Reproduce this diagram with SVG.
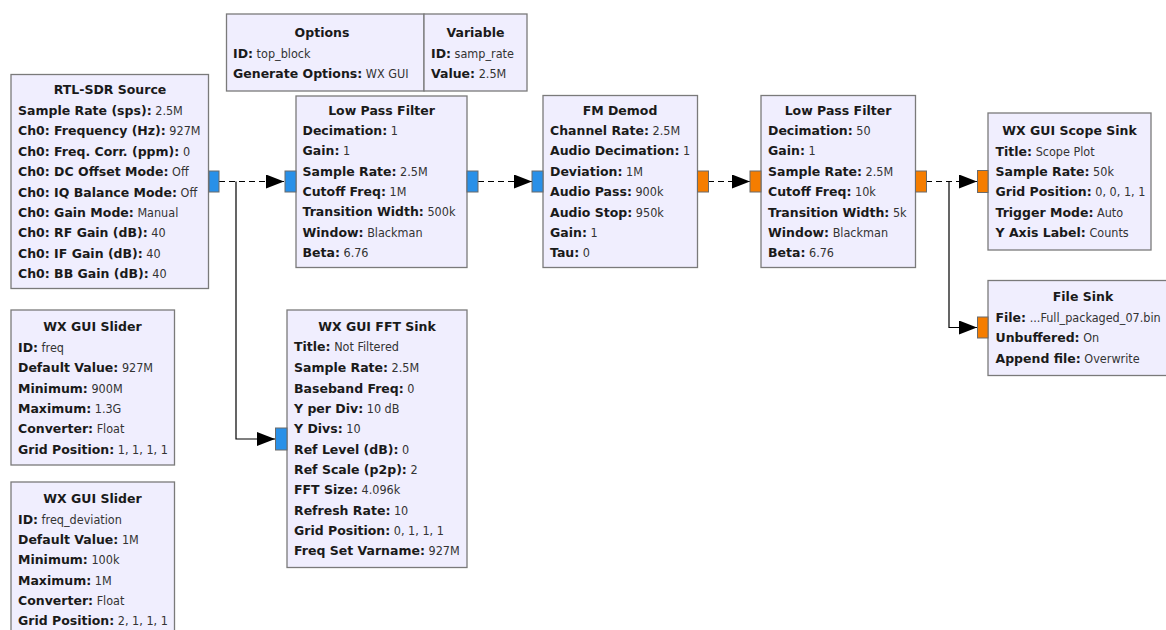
<svg xmlns="http://www.w3.org/2000/svg" width="1166" height="630" viewBox="0 0 1166 630">
<style>
.blk{fill:#F0EEFE;stroke:#7A7A7A;stroke-width:1.3}
.pb{fill:#2990E8;stroke:#6A6A6A;stroke-width:1}
.po{fill:#F57D00;stroke:#6A6A6A;stroke-width:1}
text{font-family:"DejaVu Sans Condensed","DejaVu Sans",sans-serif;font-stretch:condensed;font-size:12.5px;fill:#333}
.t{font-family:"DejaVu Sans",sans-serif;font-stretch:normal;font-weight:bold;text-anchor:middle;fill:#1a1a1a}
.k{font-family:"DejaVu Sans",sans-serif;font-stretch:normal;font-weight:bold;fill:#1a1a1a}
.dash{fill:none;stroke:#000;stroke-width:1.2;stroke-dasharray:6,4}
.sol{fill:none;stroke:#000;stroke-width:1.2}
</style>
<defs>
<marker id="arr" markerUnits="userSpaceOnUse" markerWidth="22" markerHeight="16" refX="18" refY="7" orient="auto">
<path d="M0,0 L18,7 L0,14 Z" fill="#000"/>
</marker>
</defs>
<rect width="1166" height="630" fill="#fff"/>
<g id="connectors">
<path class="dash" d="M219,181.5 H284" marker-end="url(#arr)"/>
<path class="sol" d="M236,181.5 V439 H275" marker-end="url(#arr)"/>
<path class="dash" d="M478,181.5 H532" marker-end="url(#arr)"/>
<path class="dash" d="M708,181.5 H750" marker-end="url(#arr)"/>
<path class="dash" d="M926,181.5 H977" marker-end="url(#arr)"/>
<path class="sol" d="M949,181.5 V327.5 H977" marker-end="url(#arr)"/>
</g>
<g id="options">
<rect class="blk" x="226.5" y="14" width="197.5" height="77"/>
<text class="t" x="322" y="37">Options</text>
<text x="233" y="58"><tspan class="k">ID:</tspan> top_block</text>
<text x="233" y="78"><tspan class="k">Generate Options:</tspan> WX GUI</text>
</g>
<g id="variable">
<rect class="blk" x="424" y="14" width="103" height="77"/>
<text class="t" x="475.5" y="37">Variable</text>
<text x="431" y="58"><tspan class="k">ID:</tspan> samp_rate</text>
<text x="431" y="78"><tspan class="k">Value:</tspan> 2.5M</text>
</g>
<g id="rtl">
<rect class="blk" x="11" y="74.5" width="197.5" height="214"/>
<text class="t" x="110" y="94">RTL-SDR Source</text>
<text x="18" y="114.5"><tspan class="k">Sample Rate (sps):</tspan> 2.5M</text>
<text x="18" y="135"><tspan class="k">Ch0: Frequency (Hz):</tspan> 927M</text>
<text x="18" y="155.5"><tspan class="k">Ch0: Freq. Corr. (ppm):</tspan> 0</text>
<text x="18" y="176"><tspan class="k">Ch0: DC Offset Mode:</tspan> Off</text>
<text x="18" y="196.5"><tspan class="k">Ch0: IQ Balance Mode:</tspan> Off</text>
<text x="18" y="216.5"><tspan class="k">Ch0: Gain Mode:</tspan> Manual</text>
<text x="18" y="237"><tspan class="k">Ch0: RF Gain (dB):</tspan> 40</text>
<text x="18" y="257.5"><tspan class="k">Ch0: IF Gain (dB):</tspan> 40</text>
<text x="18" y="278"><tspan class="k">Ch0: BB Gain (dB):</tspan> 40</text>
<rect class="pb" x="209" y="171" width="10" height="21"/>
</g>
<g id="lpf1">
<rect class="blk" x="296" y="96" width="171" height="171.5"/>
<text class="t" x="381.5" y="114.5">Low Pass Filter</text>
<text x="302.5" y="134.5"><tspan class="k">Decimation:</tspan> 1</text>
<text x="302.5" y="155"><tspan class="k">Gain:</tspan> 1</text>
<text x="302.5" y="175.5"><tspan class="k">Sample Rate:</tspan> 2.5M</text>
<text x="302.5" y="196"><tspan class="k">Cutoff Freq:</tspan> 1M</text>
<text x="302.5" y="216"><tspan class="k">Transition Width:</tspan> 500k</text>
<text x="302.5" y="236.5"><tspan class="k">Window:</tspan> Blackman</text>
<text x="302.5" y="257"><tspan class="k">Beta:</tspan> 6.76</text>
<rect class="pb" x="285" y="171" width="11" height="21"/>
<rect class="pb" x="467" y="171" width="11" height="21"/>
</g>
<g id="fmdemod">
<rect class="blk" x="543" y="95.5" width="154.5" height="172"/>
<text class="t" x="620" y="114.5">FM Demod</text>
<text x="550" y="135"><tspan class="k">Channel Rate:</tspan> 2.5M</text>
<text x="550" y="155"><tspan class="k">Audio Decimation:</tspan> 1</text>
<text x="550" y="175.5"><tspan class="k">Deviation:</tspan> 1M</text>
<text x="550" y="196"><tspan class="k">Audio Pass:</tspan> 900k</text>
<text x="550" y="216.5"><tspan class="k">Audio Stop:</tspan> 950k</text>
<text x="550" y="236.5"><tspan class="k">Gain:</tspan> 1</text>
<text x="550" y="257"><tspan class="k">Tau:</tspan> 0</text>
<rect class="pb" x="532" y="171" width="11" height="21"/>
<rect class="po" x="697.5" y="171" width="11" height="21"/>
</g>
<g id="lpf2">
<rect class="blk" x="761" y="95.5" width="154.5" height="172"/>
<text class="t" x="838" y="114.5">Low Pass Filter</text>
<text x="768" y="135"><tspan class="k">Decimation:</tspan> 50</text>
<text x="768" y="155"><tspan class="k">Gain:</tspan> 1</text>
<text x="768" y="175.5"><tspan class="k">Sample Rate:</tspan> 2.5M</text>
<text x="768" y="196"><tspan class="k">Cutoff Freq:</tspan> 10k</text>
<text x="768" y="216.5"><tspan class="k">Transition Width:</tspan> 5k</text>
<text x="768" y="236.5"><tspan class="k">Window:</tspan> Blackman</text>
<text x="768" y="257"><tspan class="k">Beta:</tspan> 6.76</text>
<rect class="po" x="750" y="171" width="11" height="21"/>
<rect class="po" x="915.5" y="171" width="11" height="21"/>
</g>
<g id="scope">
<rect class="blk" x="988" y="113" width="163" height="137"/>
<text class="t" x="1069.5" y="135">WX GUI Scope Sink</text>
<text x="995.5" y="155.5"><tspan class="k">Title:</tspan> Scope Plot</text>
<text x="995.5" y="176"><tspan class="k">Sample Rate:</tspan> 50k</text>
<text x="995.5" y="196"><tspan class="k">Grid Position:</tspan> 0, 0, 1, 1</text>
<text x="995.5" y="216.5"><tspan class="k">Trigger Mode:</tspan> Auto</text>
<text x="995.5" y="237"><tspan class="k">Y Axis Label:</tspan> Counts</text>
<rect class="po" x="977.5" y="170.5" width="10.5" height="22"/>
</g>
<g id="filesink">
<rect class="blk" x="988" y="280.5" width="190" height="95"/>
<text class="t" x="1083" y="301">File Sink</text>
<text x="995.5" y="322"><tspan class="k">File:</tspan> ...Full_packaged_07.bin</text>
<text x="995.5" y="342"><tspan class="k">Unbuffered:</tspan> On</text>
<text x="995.5" y="362.5"><tspan class="k">Append file:</tspan> Overwrite</text>
<rect class="po" x="977.5" y="317" width="10.5" height="21"/>
</g>
<g id="slider1">
<rect class="blk" x="11" y="310" width="163.5" height="155"/>
<text class="t" x="92.5" y="331">WX GUI Slider</text>
<text x="18" y="352"><tspan class="k">ID:</tspan> freq</text>
<text x="18" y="372"><tspan class="k">Default Value:</tspan> 927M</text>
<text x="18" y="392.5"><tspan class="k">Minimum:</tspan> 900M</text>
<text x="18" y="413"><tspan class="k">Maximum:</tspan> 1.3G</text>
<text x="18" y="433"><tspan class="k">Converter:</tspan> Float</text>
<text x="18" y="453.5"><tspan class="k">Grid Position:</tspan> 1, 1, 1, 1</text>
</g>
<g id="slider2">
<rect class="blk" x="11" y="482" width="163.5" height="160"/>
<text class="t" x="92.5" y="503">WX GUI Slider</text>
<text x="18" y="523.5"><tspan class="k">ID:</tspan> freq_deviation</text>
<text x="18" y="544"><tspan class="k">Default Value:</tspan> 1M</text>
<text x="18" y="564"><tspan class="k">Minimum:</tspan> 100k</text>
<text x="18" y="584.5"><tspan class="k">Maximum:</tspan> 1M</text>
<text x="18" y="605"><tspan class="k">Converter:</tspan> Float</text>
<text x="18" y="625"><tspan class="k">Grid Position:</tspan> 2, 1, 1, 1</text>
</g>
<g id="fftsink">
<rect class="blk" x="287" y="310" width="180" height="257.5"/>
<text class="t" x="377" y="330.5">WX GUI FFT Sink</text>
<text x="294" y="351"><tspan class="k">Title:</tspan> Not Filtered</text>
<text x="294" y="372"><tspan class="k">Sample Rate:</tspan> 2.5M</text>
<text x="294" y="392.5"><tspan class="k">Baseband Freq:</tspan> 0</text>
<text x="294" y="413"><tspan class="k">Y per Div:</tspan> 10 dB</text>
<text x="294" y="433"><tspan class="k">Y Divs:</tspan> 10</text>
<text x="294" y="453.5"><tspan class="k">Ref Level (dB):</tspan> 0</text>
<text x="294" y="474"><tspan class="k">Ref Scale (p2p):</tspan> 2</text>
<text x="294" y="494"><tspan class="k">FFT Size:</tspan> 4.096k</text>
<text x="294" y="514.5"><tspan class="k">Refresh Rate:</tspan> 10</text>
<text x="294" y="535"><tspan class="k">Grid Position:</tspan> 0, 1, 1, 1</text>
<text x="294" y="555"><tspan class="k">Freq Set Varname:</tspan> 927M</text>
<rect class="pb" x="275.5" y="428" width="11.5" height="22"/>
</g>
</svg>
